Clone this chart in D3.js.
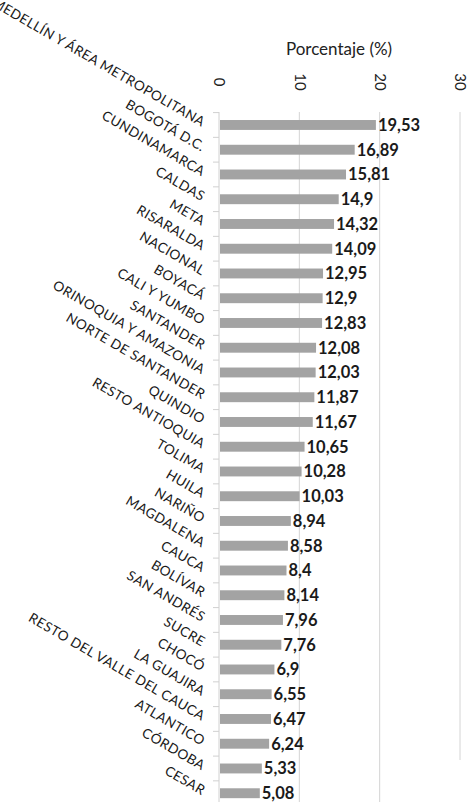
<!DOCTYPE html>
<html><head><meta charset="utf-8">
<script src="https://cdn.jsdelivr.net/npm/d3@7/dist/d3.min.js"></script>
<style>body{margin:0;background:#fff}svg{display:block}</style>
</head><body>
<script>
const categories = ["MEDELLÍN Y ÁREA METROPOLITANA","BOGOTÁ D.C.","CUNDINAMARCA","CALDAS","META","RISARALDA","NACIONAL","BOYACÁ","CALI Y YUMBO","SANTANDER","ORINOQUIA Y AMAZONIA","NORTE DE SANTANDER","QUINDIO","RESTO ANTIOQUIA","TOLIMA","HUILA","NARIÑO","MAGDALENA","CAUCA","BOLÍVAR","SAN ANDRÉS","SUCRE","CHOCÓ","LA GUAJIRA","RESTO DEL VALLE DEL CAUCA","ATLANTICO","CÓRDOBA","CESAR"];
const values = [19.53,16.89,15.81,14.9,14.32,14.09,12.95,12.9,12.83,12.08,12.03,11.87,11.67,10.65,10.28,10.03,8.94,8.58,8.4,8.14,7.96,7.76,6.9,6.55,6.47,6.24,5.33,5.08];
const valueLabels = ["19,53","16,89","15,81","14,9","14,32","14,09","12,95","12,9","12,83","12,08","12,03","11,87","11,67","10,65","10,28","10,03","8,94","8,58","8,4","8,14","7,96","7,76","6,9","6,55","6,47","6,24","5,33","5,08"];
const xTicks = [0,10,20,30];
const title = "Porcentaje (%)";

const W = 474, H = 802;
const svg = d3.select("body").append("svg").attr("width", W).attr("height", H);

const x = d3.scaleLinear().domain([0,30]).range([219,460]);
const y = d3.scaleBand().domain(categories).range([112.6, 805.6]).paddingInner(0.6).paddingOuter(0.3);

// gridlines
svg.append("g").selectAll("line").data(xTicks.slice(1)).join("line")
  .attr("x1", d=>x(d)).attr("x2", d=>x(d))
  .attr("y1", 112).attr("y2", d=> d===30 ? 760 : H)
  .attr("stroke", "#d4d4d4").attr("stroke-width", 1);

// y axis line + ticks between categories
const step = y.step();
svg.append("line").attr("x1", x(0)).attr("x2", x(0)).attr("y1", 112).attr("y2", H)
  .attr("stroke", "#d0d0d0");
svg.append("g").selectAll("line").data(categories).join("line")
  .attr("x1", x(0)-6).attr("x2", x(0))
  .attr("y1", d=>y(d)+y.bandwidth()/2 - step/2).attr("y2", d=>y(d)+y.bandwidth()/2 - step/2)
  .attr("stroke", "#d0d0d0");

// bars
svg.append("g").selectAll("rect").data(values).join("rect")
  .attr("x", x(0)+1).attr("y", (d,i)=>y(categories[i]))
  .attr("width", d=>x(d)-x(0)-1).attr("height", y.bandwidth())
  .attr("fill", "#a3a3a3");

// value labels
svg.append("g").selectAll("text").data(values).join("text")
  .attr("x", d=>x(d)+2).attr("y", (d,i)=>y(categories[i])+y.bandwidth()/2)
  .attr("dy", "0.36em")
  .attr("font-family", "Lato, 'Open Sans', sans-serif").attr("font-weight", "bold")
  .attr("font-size", 16.5).attr("fill", "#1a1a1a")
  .text((d,i)=>valueLabels[i]);

// category labels
svg.append("g").selectAll("text").data(categories).join("text")
  .attr("transform", d=>`translate(204,${y(d)+y.bandwidth()/2-2}) rotate(30)`)
  .attr("text-anchor", "end").attr("dy", "0.35em")
  .attr("font-family", "Lato, 'Open Sans', sans-serif").attr("font-size", 13.6)
  .attr("letter-spacing", 0.4)
  .attr("fill", "#1a1a1a")
  .text(d=>d);

// top axis tick labels rotated
const xAxis = d3.axisTop(x).tickValues(xTicks).tickSize(0).tickPadding(0);
const gx = svg.append("g").attr("transform", "translate(0,82)").call(xAxis);
gx.select(".domain").remove();
gx.selectAll("text")
  .attr("transform", "rotate(90)").attr("x", 0).attr("y", 0)
  .attr("dy", "0.35em").attr("text-anchor", "middle")
  .attr("font-family", "Lato, 'Open Sans', sans-serif").attr("font-size", 15)
  .attr("fill", "#222");

// title
svg.append("text").attr("x", 339).attr("y", 55).attr("text-anchor", "middle")
  .attr("font-family", "Lato, 'Open Sans', sans-serif").attr("font-size", 17)
  .attr("fill", "#222").text(title);
</script>
</body></html>
